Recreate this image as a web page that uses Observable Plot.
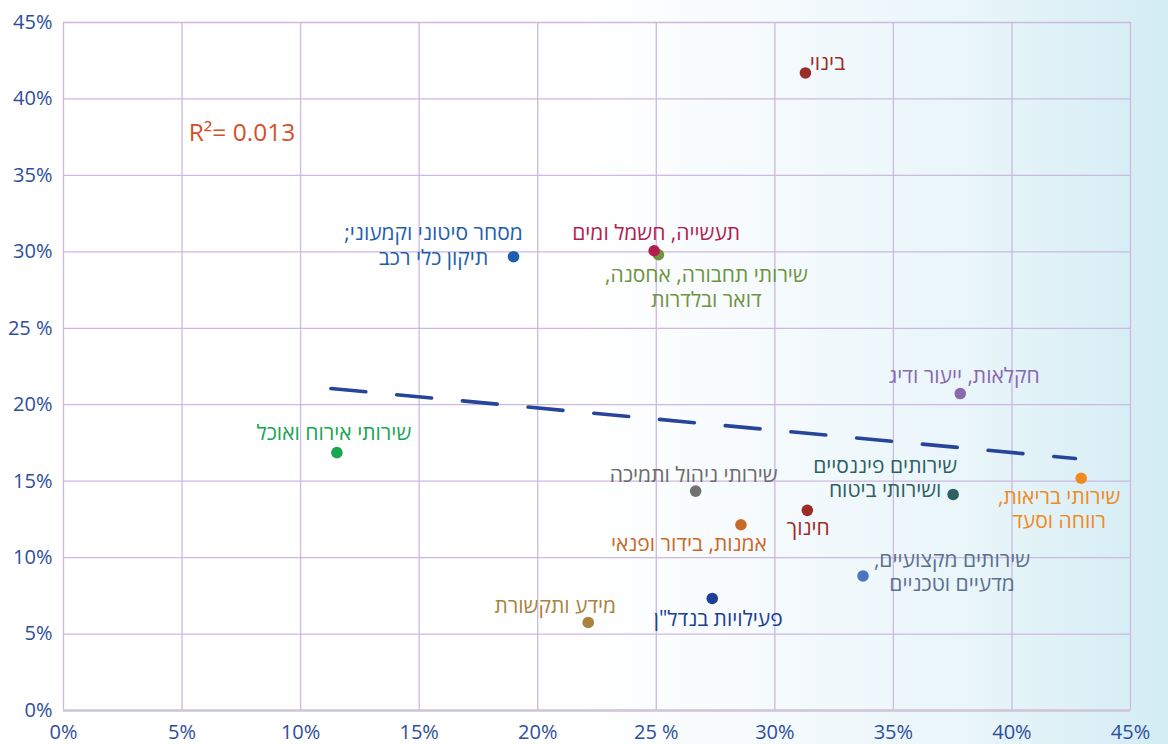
<!DOCTYPE html>
<html lang="he">
<head>
<meta charset="utf-8">
<script src="https://cdn.jsdelivr.net/npm/d3@7"></script>
<script src="https://cdn.jsdelivr.net/npm/@observablehq/plot@0.6"></script>
<style>
  html, body { margin: 0; padding: 0; width: 1168px; height: 744px; overflow: hidden; }
  body {
    background: linear-gradient(to right, #ffffff 0%, #ffffff 50%, #f5fafd 66%, #e8f5f9 84%, #d3ecf4 100%);
  }
  #chart svg { display: block; }
</style>
</head>
<body>
<div id="chart"></div>
<script>
// ---- data ----
const sectors = [
  "בינוי",
  "שירותי תחבורה, אחסנה,\nדואר ובלדרות",
  "תעשייה, חשמל ומים",
  "מסחר סיטוני וקמעוני;\nתיקון כלי רכב",
  "חקלאות, ייעור ודיג",
  "שירותי אירוח ואוכל",
  "שירותי בריאות,\nרווחה וסעד",
  "שירותים פיננסיים\nושירותי ביטוח",
  "שירותי ניהול ותמיכה",
  "חינוך",
  "אמנות, בידור ופנאי",
  "שירותים מקצועיים,\nמדעיים וטכניים",
  "פעילויות בנדל\"ן",
  "מידע ותקשורת"
];
const xValues = [31.29, 25.09, 24.91, 18.98, 37.82, 11.53, 42.92, 37.52, 26.66, 31.37, 28.57, 33.72, 27.36, 22.13];
const yValues = [41.70, 29.81, 30.07, 29.68, 20.73, 16.87, 15.19, 14.13, 14.35, 13.09, 12.15, 8.80, 7.33, 5.76];

const trendX = [11.28, 42.68];
const trendY = [21.06, 16.48];

const r2Text = "R²= 0.013";

const tickValues = [0, 5, 10, 15, 20, 25, 30, 35, 40, 45];
const xTickLabels = ["0%", "5%", "10%", "15%", "20%", "25 %", "30%", "35%", "40%", "45%"];
const yTickLabels = ["0%", "5%", "10%", "15%", "20%", "25 %", "30%", "35%", "40%", "45%"];

// ---- styles / layout ----
const dotColors = ["#9b2d27", "#6f9440", "#b21e50", "#1f5fae", "#8a68b0", "#19a552", "#f28a24",
                   "#2e5f62", "#717171", "#9b2d27", "#c86a2b", "#4b75c1", "#203f94", "#a8843e"];
const labelColors = ["#9b2d27", "#6f9440", "#b21e50", "#1f5fae", "#8a68b0", "#19a552", "#f08a24",
                     "#2e5f62", "#6b6b6b", "#9b2d27", "#c86a2b", "#5c7090", "#203f94", "#a8843e"];
// label offsets in pixels from the dot (center of text block)
const labelOffsets = [
  [22, -11], [48, 32], [2, -18], [-80, -12], [4, -18], [-3, -20], [-22, 30],
  [-68, -17], [-2, -17], [1, 17], [-52, 19], [89, -5], [6, 20], [-33, -17]
];
const r2Pos = {x: 5.28, y: 37.75};

const idx = d3.range(sectors.length);

const labelMarks = idx.map(i => Plot.text([i], {
  x: j => xValues[j],
  y: j => yValues[j],
  text: j => sectors[j],
  dx: labelOffsets[i][0],
  dy: labelOffsets[i][1],
  fill: labelColors[i],
  fontSize: 21,
  lineHeight: 1.15,
  textAnchor: "middle",
  lineAnchor: "middle"
}));

const chart = Plot.plot({
  width: 1168,
  height: 744,
  marginLeft: 63,
  marginRight: 38,
  marginTop: 22,
  marginBottom: 34,
  style: {
    background: "transparent",
    fontFamily: "'Open Sans', 'DejaVu Sans', sans-serif",
    fontSize: "20px",
    color: "#2d4e9c"
  },
  x: {
    domain: [0, 45],
    ticks: tickValues,
    tickFormat: d => xTickLabels[tickValues.indexOf(d)],
    tickSize: 0,
    tickPadding: 14,
    label: null
  },
  y: {
    domain: [0, 45],
    ticks: tickValues,
    tickFormat: d => yTickLabels[tickValues.indexOf(d)],
    tickSize: 0,
    tickPadding: 11,
    label: null
  },
  marks: [
    Plot.ruleX(tickValues, {stroke: "#cbb9e0", strokeWidth: 1.3}),
    Plot.ruleY(tickValues, {stroke: "#cbb9e0", strokeWidth: 1.3}),
    Plot.ruleY([0], {stroke: "#cfc7d8", strokeWidth: 2.5}),
    Plot.line(idx.slice(0, 2), {
      x: i => trendX[i], y: i => trendY[i],
      stroke: "#26449a", strokeWidth: 3.6, strokeDasharray: "35,31", strokeLinecap: "round"
    }),
    Plot.dot(idx, {
      x: i => xValues[i], y: i => yValues[i],
      r: 5.8, fill: i => dotColors[i], stroke: "none"
    }),
    ...labelMarks,
    Plot.text([r2Text], {
      x: () => r2Pos.x, y: () => r2Pos.y, text: d => d,
      fill: "#d4502a", fontSize: 24.5, textAnchor: "start", lineAnchor: "middle"
    })
  ]
});

chart.querySelectorAll("text").forEach(t => {
  if (/[\u0590-\u05FF]/.test(t.textContent)) t.setAttribute("direction", "rtl");
});

document.getElementById("chart").appendChild(chart);
</script>
</body>
</html>
